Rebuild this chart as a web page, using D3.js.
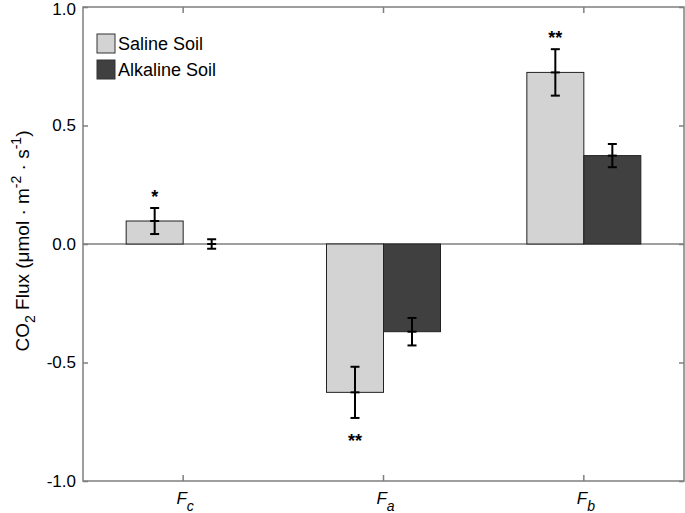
<!DOCTYPE html>
<html><head><meta charset="utf-8">
<script src="https://cdn.jsdelivr.net/npm/d3@7"></script>
<style>body{margin:0;background:#fff}svg{display:block}text{font-family:"Liberation Sans",Arial,sans-serif}</style>
</head><body><svg id="c" width="685" height="513"></svg>
<script>
const categories = ["c", "a", "b"];
const seriesNames = ["Saline Soil", "Alkaline Soil"];
const salineValues = [0.097, -0.626, 0.724];
const salineErrors = [0.055, 0.108, 0.098];
const alkalineValues = [0.0, -0.37, 0.373];
const alkalineErrors = [0.02, 0.058, 0.049];
const salineMarks = ["*", "**", "**"];
const yTicks = [-1.0, -0.5, 0.0, 0.5, 1.0];
const colors = ["#d3d3d3", "#404040"];

const svg = d3.select("#c");
const L = 83, R = 684, T = 7, B = 481;
const x = d3.scaleBand().domain(categories).range([L, R]).padding(0);
const y = d3.scaleLinear().domain([-1, 1]).range([B, T]);
const bw = 57;
const axisColor = "#7f7f7f";

const series = [
  {name: seriesNames[0], vals: salineValues, errs: salineErrors, color: colors[0]},
  {name: seriesNames[1], vals: alkalineValues, errs: alkalineErrors, color: colors[1]}
];

// zero line
svg.append("line").attr("x1", L).attr("x2", R).attr("y1", y(0)).attr("y2", y(0))
  .attr("stroke", axisColor).attr("stroke-width", 1.5);

// bars
series.forEach((s, si) => {
  const g = svg.append("g");
  categories.forEach((c, i) => {
    const cx = x(c) + x.bandwidth() / 2;
    const x0 = si === 0 ? cx - bw : cx;
    const v = s.vals[i];
    if (Math.abs(v) > 0.001) {
      g.append("rect").attr("x", x0).attr("width", bw)
        .attr("y", y(Math.max(0, v))).attr("height", Math.abs(y(v) - y(0)))
        .attr("fill", s.color).attr("stroke", "#222").attr("stroke-width", 1);
    }
  });
});

// error bars
series.forEach((s, si) => {
  categories.forEach((c, i) => {
    const cx = x(c) + x.bandwidth() / 2 + (si === 0 ? -bw / 2 : bw / 2);
    const v = s.vals[i], e = s.errs[i];
    const g = svg.append("g").attr("stroke", "#000").attr("stroke-width", 2);
    g.append("line").attr("x1", cx).attr("x2", cx).attr("y1", y(v + e)).attr("y2", y(v - e));
    [v + e, v - e, v].forEach(t => {
      g.append("line").attr("x1", cx - 4.5).attr("x2", cx + 4.5).attr("y1", y(t)).attr("y2", y(t));
    });
  });
});

// significance marks
categories.forEach((c, i) => {
  const cx = x(c) + x.bandwidth() / 2 - bw / 2;
  const v = salineValues[i], e = salineErrors[i];
  const ty = v >= 0 ? y(v + e) - 5 : y(v - e) + 29;
  svg.append("text").attr("x", cx).attr("y", ty).attr("text-anchor", "middle")
    .attr("font-size", 18).attr("font-weight", "bold").attr("fill", "#000").text(salineMarks[i]);
});

// frame
svg.append("rect").attr("x", L).attr("y", T).attr("width", R - L).attr("height", B - T)
  .attr("fill", "none").attr("stroke", axisColor).attr("stroke-width", 1.5);

// y axis
const yAxis = svg.append("g").attr("transform", `translate(${L},0)`)
  .call(d3.axisLeft(y).tickValues(yTicks).tickFormat(d3.format(".1f")).tickSizeInner(-5).tickSizeOuter(0).tickPadding(7));
yAxis.select(".domain").remove();
yAxis.selectAll("line").attr("stroke", axisColor).attr("stroke-width", 1.5);
yAxis.selectAll("text").attr("font-size", 17).attr("fill", "#000")
  .attr("font-family", '"Liberation Sans",Arial,sans-serif').text(d => d.toFixed(1))
  .attr("dy", d => d === 1 ? "0.42em" : "0.32em");

const yAxisR = svg.append("g").attr("transform", `translate(${R},0)`)
  .call(d3.axisRight(y).tickValues(yTicks).tickSizeInner(-5).tickSizeOuter(0).tickFormat(""));
yAxisR.select(".domain").remove();
yAxisR.selectAll("line").attr("stroke", axisColor).attr("stroke-width", 1.5);

// x axis
const xAxis = svg.append("g").attr("transform", `translate(0,${B})`)
  .call(d3.axisBottom(x).tickSizeInner(-6).tickSizeOuter(0).tickFormat(""));
xAxis.select(".domain").remove();
xAxis.selectAll("line").attr("stroke", axisColor).attr("stroke-width", 1.5);
const xAxisT = svg.append("g").attr("transform", `translate(0,${T})`)
  .call(d3.axisTop(x).tickSizeInner(-6).tickSizeOuter(0).tickFormat(""));
xAxisT.select(".domain").remove();
xAxisT.selectAll("line").attr("stroke", axisColor).attr("stroke-width", 1.5);

categories.forEach(c => {
  const t = svg.append("text").attr("x", x(c) + x.bandwidth() / 2 + 2).attr("y", 504)
    .attr("text-anchor", "middle").attr("font-size", 17).attr("font-style", "italic").attr("fill", "#000");
  t.append("tspan").text("F");
  t.append("tspan").attr("dy", 7).attr("font-size", 14).text(c);
});

// y label
const yl = svg.append("text").attr("transform", `translate(29,241) rotate(-90)`)
  .attr("text-anchor", "middle").attr("font-size", 19).attr("fill", "#000");
yl.append("tspan").text("CO");
yl.append("tspan").attr("dy", 6).attr("font-size", 14).text("2");
yl.append("tspan").attr("dy", -6).text(" Flux (μmol · m");
yl.append("tspan").attr("dy", -8).attr("font-size", 14).text("-2");
yl.append("tspan").attr("dy", 8).text(" · s");
yl.append("tspan").attr("dy", -8).attr("font-size", 14).text("-1");
yl.append("tspan").attr("dy", 8).text(")");

// legend
series.forEach((s, i) => {
  const ly = 34 + i * 26;
  svg.append("rect").attr("x", 97).attr("y", ly).attr("width", 18).attr("height", 19)
    .attr("fill", s.color).attr("stroke", "#333").attr("stroke-width", 1);
  svg.append("text").attr("x", 118).attr("y", ly + 16).attr("font-size", 18).attr("fill", "#000").text(s.name);
});
</script></body></html>
